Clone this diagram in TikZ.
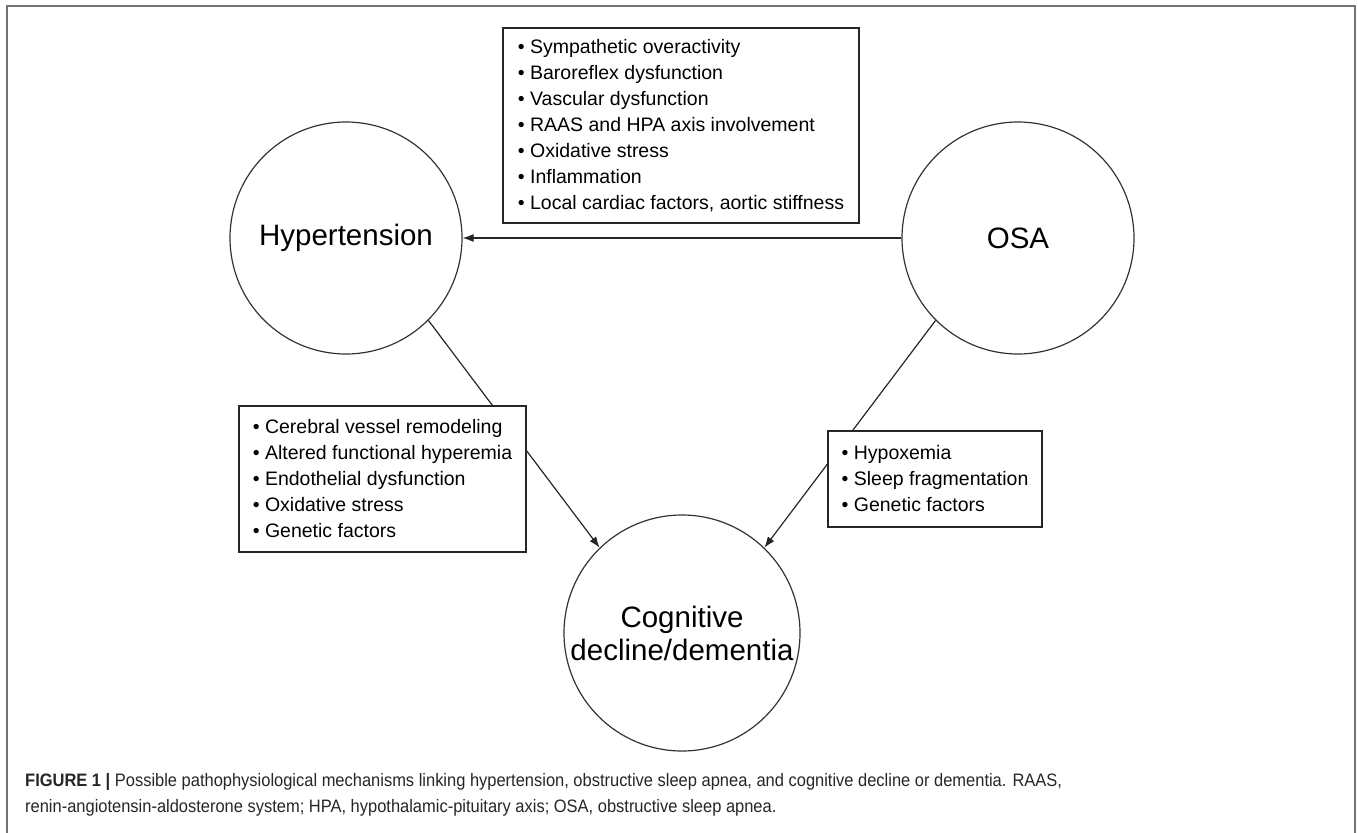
\documentclass[tikz,border=0pt]{standalone}
\usepackage{fontspec}
\setmainfont{Liberation Sans}
\newfontfamily\capfont[FakeStretch=0.915]{Liberation Sans}
\usetikzlibrary{arrows.meta}

\begin{document}
\begin{tikzpicture}[x=1pt,y=-1pt,
  disease/.style={draw=black!80, line width=1.2pt, circle, inner sep=0pt, align=center, font=\fontsize{29.5}{33}\selectfont},
  factors/.style={draw=black!85, line width=1.2pt, fill=white, align=left, inner sep=0pt, font=\fontsize{19.5}{26}\selectfont},
  leadsto/.style={draw=black!85, line width=1.2pt, -{Latex[length=11pt,width=8pt]}}]
\useasboundingbox (0,0) rectangle (1358,833);
\draw[black!55, line width=2pt] (7,833) -- (7,6) -- (1355,6) -- (1355,833);

\node[disease, minimum size=232pt] (1) at (346,238) {Hypertension};
\node[disease, minimum size=232pt] (2) at (1018,238) {OSA};
\node[disease, minimum size=236pt] (3) at (682,633) {Cognitive\\decline/dementia};

\path[leadsto] (2) -- (1);
\path[leadsto] (1.-45) -- (3.134);
\path[leadsto] (2.-135) -- (3.46);

\node[factors, minimum width=356pt, minimum height=195pt] (4) at (681,125.5) {%
\textbullet\ Sympathetic overactivity\\
\textbullet\ Baroreflex dysfunction\\
\textbullet\ Vascular dysfunction\\
\textbullet\ RAAS and HPA axis involvement\\
\textbullet\ Oxidative stress\\
\textbullet\ Inflammation\\
\textbullet\ Local cardiac factors, aortic stiffness};
\node[factors, minimum width=287pt, minimum height=146pt] (5) at (382.5,479) {%
\textbullet\ Cerebral vessel remodeling\\
\textbullet\ Altered functional hyperemia\\
\textbullet\ Endothelial dysfunction\\
\textbullet\ Oxidative stress\\
\textbullet\ Genetic factors};
\node[factors, minimum width=214pt, minimum height=96pt] (6) at (935,479) {%
\textbullet\ Hypoxemia\\
\textbullet\ Sleep fragmentation\\
\textbullet\ Genetic factors};

\node[anchor=west, align=left, inner sep=0pt, text=black!85, font=\capfont\fontsize{18}{26}\selectfont] (7) at (25,795) {%
\textbf{FIGURE 1 |} Possible pathophysiological mechanisms linking hypertension, obstructive sleep apnea, and cognitive decline or dementia. RAAS,\\
renin-angiotensin-aldosterone system; HPA, hypothalamic-pituitary axis; OSA, obstructive sleep apnea.};
\end{tikzpicture}
\end{document}
